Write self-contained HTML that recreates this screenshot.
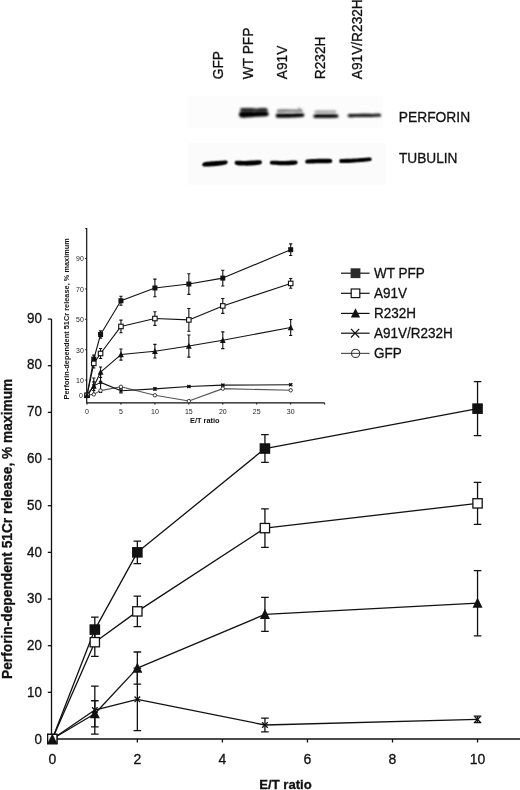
<!DOCTYPE html>
<html><head><meta charset="utf-8"><style>
html,body{margin:0;padding:0;background:#fff;}
svg{display:block;filter:grayscale(1);}
text{stroke:#111;stroke-width:0.3px;}
</style></head><body>
<svg width="520" height="790" viewBox="0 0 520 790">
<defs><filter id="bl" x="-20%" y="-50%" width="140%" height="200%"><feGaussianBlur stdDeviation="1.0"/></filter><filter id="bl2" x="-20%" y="-50%" width="140%" height="200%"><feConvolveMatrix order="3" kernelMatrix="1 2 1 2 4 2 1 2 1" divisor="16" edgeMode="none"/></filter><filter id="soft" x="0" y="0" width="520" height="790" filterUnits="userSpaceOnUse"><feConvolveMatrix order="3" kernelMatrix="1 3 1 3 9 3 1 3 1" divisor="25" edgeMode="duplicate"/></filter></defs>
<rect width="520" height="790" fill="#fff"/>
<g id="blot">
<rect x="187.2" y="95.8" width="196" height="32" fill="#fcfcfc"/>
<rect x="187.7" y="143" width="197.9" height="41.6" fill="#fbfbfb"/>
<g filter="url(#bl)">
<path d="M240.25 109.25 C240.57 108.77 240.57 108.25 242.2 108.05 C243.82 107.85 247.53 107.97 250 108.05 C252.47 108.13 255.25 108.55 257 108.55 C258.75 108.55 259.07 108.15 260.5 108.05 C261.93 107.95 264.46 107.8 265.6 107.95 C266.74 108.1 266.99 108.48 267.35 108.95 C267.71 109.42 267.98 110.33 267.75 110.75 C267.52 111.17 270.26 111.33 266 111.45 C261.74 111.57 246.49 111.53 242.2 111.45 C237.91 111.37 240.57 111.32 240.25 110.95 C239.93 110.58 239.93 109.73 240.25 109.25Z" fill="#1e1e1e" opacity="1"/>
<path d="M239.25 113.15 C239.57 112.47 238.74 112.15 241.2 111.95 C243.66 111.75 249.77 111.95 254 111.95 C258.23 111.95 264.19 111.75 266.6 111.95 C269.01 112.15 268.14 112.6 268.45 113.15 C268.76 113.7 268.86 114.73 268.45 115.25 C268.04 115.77 268.07 115.98 266 116.25 C263.93 116.52 259.17 116.63 256 116.85 C252.83 117.07 249.42 117.45 247 117.55 C244.58 117.65 242.79 117.7 241.5 117.45 C240.21 117.2 239.62 116.77 239.25 116.05 C238.88 115.33 238.93 113.83 239.25 113.15Z" fill="#000" opacity="1"/>
<path d="M277.2 110.2 C277.5 109.82 276.87 109.52 279 109.4 C281.13 109.28 286.33 109.47 290 109.5 C293.67 109.53 298.92 109.47 301 109.6 C303.08 109.73 302.25 109.95 302.5 110.3 C302.75 110.65 302.75 111.4 302.5 111.7 C302.25 112 304.92 112.02 301 112.1 C297.08 112.18 282.97 112.27 279 112.2 C275.03 112.13 277.5 112.03 277.2 111.7 C276.9 111.37 276.9 110.58 277.2 110.2Z" fill="#7a7a7a" opacity="1"/>
<circle cx="299.3" cy="108.7" r="1.1" fill="#8a8a8a"/>
<path d="M276.05 114.55 C276.38 114.02 275.68 113.73 278 113.55 C280.32 113.37 285.97 113.5 290 113.45 C294.03 113.4 299.86 113.12 302.2 113.25 C304.54 113.38 303.74 113.78 304.05 114.25 C304.36 114.72 304.39 115.6 304.05 116.05 C303.71 116.5 304.68 116.68 302 116.95 C299.32 117.22 291.97 117.52 288 117.65 C284.03 117.78 280.19 117.9 278.2 117.75 C276.21 117.6 276.41 117.28 276.05 116.75 C275.69 116.22 275.73 115.08 276.05 114.55Z" fill="#000" opacity="1"/>
<path d="M314.65 111.25 C314.88 110.93 314.11 110.58 316 110.45 C317.89 110.32 322.83 110.43 326 110.45 C329.17 110.47 333.31 110.4 335 110.55 C336.69 110.7 335.96 111.07 336.15 111.35 C336.34 111.63 336.34 112.02 336.15 112.25 C335.96 112.48 336.69 112.65 335 112.75 C333.31 112.85 329.17 112.83 326 112.85 C322.83 112.87 317.89 112.93 316 112.85 C314.11 112.77 314.88 112.62 314.65 112.35 C314.43 112.08 314.43 111.57 314.65 111.25Z" fill="#959595" opacity="1"/>
<path d="M313.65 115.35 C313.98 114.85 313.54 114.37 315.6 114.15 C317.66 113.93 322.53 114.05 326 114.05 C329.47 114.05 334.36 113.95 336.4 114.15 C338.44 114.35 337.94 114.77 338.25 115.25 C338.56 115.73 338.56 116.63 338.25 117.05 C337.94 117.47 338.44 117.6 336.4 117.75 C334.36 117.9 329.47 117.92 326 117.95 C322.53 117.98 317.66 118.08 315.6 117.95 C313.54 117.82 313.98 117.58 313.65 117.15 C313.33 116.72 313.33 115.85 313.65 115.35Z" fill="#080808" opacity="1"/>
<path d="M347.8 115.3 C348.08 114.95 347.8 114.32 349.5 114.1 C351.2 113.88 355.42 114.05 358 114 C360.58 113.95 362.67 113.82 365 113.8 C367.33 113.78 369.58 113.9 372 113.9 C374.42 113.9 378 113.65 379.5 113.8 C381 113.95 380.75 114.45 381 114.8 C381.25 115.15 381.25 115.6 381 115.9 C380.75 116.2 381 116.42 379.5 116.6 C378 116.78 374.42 116.95 372 117 C369.58 117.05 367.33 116.88 365 116.9 C362.67 116.92 360.58 117.05 358 117.1 C355.42 117.15 351.2 117.35 349.5 117.2 C347.8 117.05 348.08 116.52 347.8 116.2 C347.52 115.88 347.52 115.65 347.8 115.3Z" fill="#0d0d0d" opacity="1"/>
</g>
<g filter="url(#bl2)">
<path d="M202.5 163.7 C202.85 163.12 203.35 162.58 204.6 162.2 C205.85 161.82 207.77 161.6 210 161.4 C212.23 161.2 215.4 161.15 218 161 C220.6 160.85 224.03 160.45 225.6 160.5 C227.17 160.55 227.1 160.83 227.4 161.3 C227.7 161.77 227.7 162.78 227.4 163.3 C227.1 163.82 227.17 163.98 225.6 164.4 C224.03 164.82 220.6 165.47 218 165.8 C215.4 166.13 212.23 166.28 210 166.4 C207.77 166.52 205.85 166.62 204.6 166.5 C203.35 166.38 202.85 166.17 202.5 165.7 C202.15 165.23 202.15 164.28 202.5 163.7Z" fill="#000" opacity="1"/>
<path d="M234.9 161.8 C235.22 161.28 235.03 160.95 236.8 160.8 C238.57 160.65 241.83 160.98 245.5 160.9 C249.17 160.82 256.13 160.27 258.8 160.3 C261.47 160.33 261.02 160.6 261.5 161.1 C261.98 161.6 261.98 162.73 261.7 163.3 C261.42 163.87 261.42 164.12 259.8 164.5 C258.18 164.88 254.97 165.42 252 165.6 C249.03 165.78 244.53 165.72 242 165.6 C239.47 165.48 237.98 165.18 236.8 164.9 C235.62 164.62 235.22 164.42 234.9 163.9 C234.58 163.38 234.58 162.32 234.9 161.8Z" fill="#000" opacity="1"/>
<path d="M270.1 161.9 C270.4 161.42 269.78 160.95 271.9 160.8 C274.02 160.65 279.07 161.07 282.8 161 C286.53 160.93 291.9 160.37 294.3 160.4 C296.7 160.43 296.68 160.72 297.2 161.2 C297.72 161.68 297.67 162.75 297.4 163.3 C297.13 163.85 296.92 164.18 295.6 164.5 C294.28 164.82 292.18 165.08 289.5 165.2 C286.82 165.32 282.43 165.32 279.5 165.2 C276.57 165.08 273.47 164.75 271.9 164.5 C270.33 164.25 270.4 164.13 270.1 163.7 C269.8 163.27 269.8 162.38 270.1 161.9Z" fill="#000" opacity="1"/>
<path d="M305.5 160.8 C305.83 160.28 305.28 159.93 307.5 159.6 C309.72 159.27 315.02 158.92 318.8 158.8 C322.58 158.68 328 158.7 330.2 158.9 C332.4 159.1 331.7 159.48 332 160 C332.3 160.52 332.3 161.52 332 162 C331.7 162.48 332.4 162.68 330.2 162.9 C328 163.12 322.58 163.18 318.8 163.3 C315.02 163.42 309.72 163.7 307.5 163.6 C305.28 163.5 305.83 163.17 305.5 162.7 C305.17 162.23 305.17 161.32 305.5 160.8Z" fill="#000" opacity="1"/>
<path d="M339.5 160.3 C339.83 159.8 338.88 159.4 341.5 159.1 C344.12 158.8 350.65 158.77 355.2 158.5 C359.75 158.23 366.1 157.52 368.8 157.5 C371.5 157.48 370.97 157.93 371.4 158.4 C371.83 158.87 371.83 159.82 371.4 160.3 C370.97 160.78 371.5 160.93 368.8 161.3 C366.1 161.67 359.75 162.2 355.2 162.5 C350.65 162.8 344.12 163.17 341.5 163.1 C338.88 163.03 339.83 162.57 339.5 162.1 C339.17 161.63 339.17 160.8 339.5 160.3Z" fill="#000" opacity="1"/>
</g>
<text transform="translate(223 79.2) rotate(-90)" textLength="28.16" lengthAdjust="spacingAndGlyphs" style="font-family:'Liberation Sans',sans-serif;font-size:14.6px" fill="#111">GFP</text>
<text transform="translate(253.4 79.2) rotate(-90)" textLength="51.5" lengthAdjust="spacingAndGlyphs" style="font-family:'Liberation Sans',sans-serif;font-size:14.6px" fill="#111">WT PFP</text>
<text transform="translate(287.4 79.2) rotate(-90)" textLength="33.52" lengthAdjust="spacingAndGlyphs" style="font-family:'Liberation Sans',sans-serif;font-size:14.6px" fill="#111">A91V</text>
<text transform="translate(324.8 79.2) rotate(-90)" textLength="42.65" lengthAdjust="spacingAndGlyphs" style="font-family:'Liberation Sans',sans-serif;font-size:14.6px" fill="#111">R232H</text>
<text transform="translate(361.8 79.2) rotate(-90)" textLength="79.97" lengthAdjust="spacingAndGlyphs" style="font-family:'Liberation Sans',sans-serif;font-size:14.6px" fill="#111">A91V/R232H</text>
<text x="398.8" y="121.5" textLength="71.3" lengthAdjust="spacingAndGlyphs" style="font-family:'Liberation Sans',sans-serif;font-size:14.3px" fill="#111">PERFORIN</text>
<text x="398.9" y="162.6" textLength="58.61" lengthAdjust="spacingAndGlyphs" style="font-family:'Liberation Sans',sans-serif;font-size:14.3px" fill="#111">TUBULIN</text>
</g>
<g id="main" stroke-linecap="butt">
<path d="M51.5 319.06V739.6M51 739H520" stroke="#111" stroke-width="1.3" fill="none"/>
<path d="M47.8 739H51.5" stroke="#111" stroke-width="1.3"/>
<text x="41.9" y="743.7" text-anchor="end" textLength="7.45" lengthAdjust="spacingAndGlyphs" style="font-family:'Liberation Sans',sans-serif;font-size:14px" fill="#111">0</text>
<path d="M47.8 692.34H51.5" stroke="#111" stroke-width="1.3"/>
<text x="41.9" y="696.9" text-anchor="end" textLength="14.9" lengthAdjust="spacingAndGlyphs" style="font-family:'Liberation Sans',sans-serif;font-size:14px" fill="#111">10</text>
<path d="M47.8 645.68H51.5" stroke="#111" stroke-width="1.3"/>
<text x="41.9" y="650.1" text-anchor="end" textLength="14.9" lengthAdjust="spacingAndGlyphs" style="font-family:'Liberation Sans',sans-serif;font-size:14px" fill="#111">20</text>
<path d="M47.8 599.02H51.5" stroke="#111" stroke-width="1.3"/>
<text x="41.9" y="603.3" text-anchor="end" textLength="14.9" lengthAdjust="spacingAndGlyphs" style="font-family:'Liberation Sans',sans-serif;font-size:14px" fill="#111">30</text>
<path d="M47.8 552.36H51.5" stroke="#111" stroke-width="1.3"/>
<text x="41.9" y="556.5" text-anchor="end" textLength="14.9" lengthAdjust="spacingAndGlyphs" style="font-family:'Liberation Sans',sans-serif;font-size:14px" fill="#111">40</text>
<path d="M47.8 505.7H51.5" stroke="#111" stroke-width="1.3"/>
<text x="41.9" y="509.7" text-anchor="end" textLength="14.9" lengthAdjust="spacingAndGlyphs" style="font-family:'Liberation Sans',sans-serif;font-size:14px" fill="#111">50</text>
<path d="M47.8 459.04H51.5" stroke="#111" stroke-width="1.3"/>
<text x="41.9" y="462.9" text-anchor="end" textLength="14.9" lengthAdjust="spacingAndGlyphs" style="font-family:'Liberation Sans',sans-serif;font-size:14px" fill="#111">60</text>
<path d="M47.8 412.38H51.5" stroke="#111" stroke-width="1.3"/>
<text x="41.9" y="416.1" text-anchor="end" textLength="14.9" lengthAdjust="spacingAndGlyphs" style="font-family:'Liberation Sans',sans-serif;font-size:14px" fill="#111">70</text>
<path d="M47.8 365.72H51.5" stroke="#111" stroke-width="1.3"/>
<text x="41.9" y="369.3" text-anchor="end" textLength="14.9" lengthAdjust="spacingAndGlyphs" style="font-family:'Liberation Sans',sans-serif;font-size:14px" fill="#111">80</text>
<path d="M47.8 319.06H51.5" stroke="#111" stroke-width="1.3"/>
<text x="41.9" y="322.5" text-anchor="end" textLength="14.9" lengthAdjust="spacingAndGlyphs" style="font-family:'Liberation Sans',sans-serif;font-size:14px" fill="#111">90</text>
<path d="M52.3 739V742.5" stroke="#111" stroke-width="1.3"/>
<text x="52.3" y="764" text-anchor="middle" style="font-family:'Liberation Sans',sans-serif;font-size:14px" fill="#111">0</text>
<path d="M137.35 739V742.5" stroke="#111" stroke-width="1.3"/>
<text x="137.35" y="764" text-anchor="middle" style="font-family:'Liberation Sans',sans-serif;font-size:14px" fill="#111">2</text>
<path d="M222.4 739V742.5" stroke="#111" stroke-width="1.3"/>
<text x="222.4" y="764" text-anchor="middle" style="font-family:'Liberation Sans',sans-serif;font-size:14px" fill="#111">4</text>
<path d="M307.45 739V742.5" stroke="#111" stroke-width="1.3"/>
<text x="307.45" y="764" text-anchor="middle" style="font-family:'Liberation Sans',sans-serif;font-size:14px" fill="#111">6</text>
<path d="M392.5 739V742.5" stroke="#111" stroke-width="1.3"/>
<text x="392.5" y="764" text-anchor="middle" style="font-family:'Liberation Sans',sans-serif;font-size:14px" fill="#111">8</text>
<path d="M477.55 739V742.5" stroke="#111" stroke-width="1.3"/>
<text x="477.55" y="764" text-anchor="middle" style="font-family:'Liberation Sans',sans-serif;font-size:14px" fill="#111">10</text>
<text x="285.5" y="788.5" text-anchor="middle" style="font-family:'Liberation Sans',sans-serif;font-size:13.1px;font-weight:bold" fill="#111">E/T ratio</text>
<text transform="translate(12.0 679.0) rotate(-90)" textLength="300.31" lengthAdjust="spacingAndGlyphs" style="font-family:'Liberation Sans',sans-serif;font-size:14.4px;font-weight:bold" fill="#111">Perforin-dependent 51Cr release, % maximum</text>
<path d="M52.3 739 L94.82 629.58 L137.35 552.36 L264.93 448.54 L477.55 408.65" fill="none" stroke="#111" stroke-width="1.3" stroke-linejoin="round"/>
<path d="M52.3 739 L94.82 642.18 L137.35 611.38 L264.93 528.1 L477.55 503.37" fill="none" stroke="#111" stroke-width="1.3" stroke-linejoin="round"/>
<path d="M52.3 739 L94.82 713.8 L137.35 668.08 L264.93 614.42 L477.55 603.22" fill="none" stroke="#111" stroke-width="1.3" stroke-linejoin="round"/>
<path d="M52.3 739 L94.82 710.07 L137.35 699.34 L264.93 725 L477.55 719.4" fill="none" stroke="#111" stroke-width="1.3" stroke-linejoin="round"/>
<path d="M94.82 617.17V641.99M91.02 617.17H98.62M91.02 641.99H98.62" stroke="#111" stroke-width="1.3" fill="none"/>
<path d="M137.35 541.16V563.56M133.55 541.16H141.15M133.55 563.56H141.15" stroke="#111" stroke-width="1.3" fill="none"/>
<path d="M264.93 434.64V462.45M261.12 434.64H268.73M261.12 462.45H268.73" stroke="#111" stroke-width="1.3" fill="none"/>
<path d="M477.55 381.58V435.71M473.75 381.58H481.35M473.75 435.71H481.35" stroke="#111" stroke-width="1.3" fill="none"/>
<path d="M94.82 628V656.37M91.02 628H98.62M91.02 656.37H98.62" stroke="#111" stroke-width="1.3" fill="none"/>
<path d="M137.35 596.13V626.64M133.55 596.13H141.15M133.55 626.64H141.15" stroke="#111" stroke-width="1.3" fill="none"/>
<path d="M264.93 508.78V547.41M261.12 508.78H268.73M261.12 547.41H268.73" stroke="#111" stroke-width="1.3" fill="none"/>
<path d="M477.55 482.37V524.36M473.75 482.37H481.35M473.75 524.36H481.35" stroke="#111" stroke-width="1.3" fill="none"/>
<path d="M94.82 700.74V726.87M91.02 700.74H98.62M91.02 726.87H98.62" stroke="#111" stroke-width="1.3" fill="none"/>
<path d="M137.35 651.98V684.17M133.55 651.98H141.15M133.55 684.17H141.15" stroke="#111" stroke-width="1.3" fill="none"/>
<path d="M264.93 597.43V631.4M261.12 597.43H268.73M261.12 631.4H268.73" stroke="#111" stroke-width="1.3" fill="none"/>
<path d="M477.55 570.56V635.88M473.75 570.56H481.35M473.75 635.88H481.35" stroke="#111" stroke-width="1.3" fill="none"/>
<path d="M94.82 686.09V734.05M91.02 686.09H98.62M91.02 734.05H98.62" stroke="#111" stroke-width="1.3" fill="none"/>
<path d="M137.35 668.08V730.6M133.55 668.08H141.15M133.55 730.6H141.15" stroke="#111" stroke-width="1.3" fill="none"/>
<path d="M264.93 718.19V731.81M261.12 718.19H268.73M261.12 731.81H268.73" stroke="#111" stroke-width="1.3" fill="none"/>
<path d="M477.55 716.14V722.67M473.75 716.14H481.35M473.75 722.67H481.35" stroke="#111" stroke-width="1.3" fill="none"/>
<rect x="47" y="733.7" width="10.6" height="10.6" fill="#111"/>
<rect x="89.52" y="624.28" width="10.6" height="10.6" fill="#111"/>
<rect x="132.05" y="547.06" width="10.6" height="10.6" fill="#111"/>
<rect x="259.62" y="443.24" width="10.6" height="10.6" fill="#111"/>
<rect x="472.25" y="403.35" width="10.6" height="10.6" fill="#111"/>
<rect x="47.65" y="734.35" width="9.3" height="9.3" fill="#fff" stroke="#111" stroke-width="1.3"/>
<rect x="90.17" y="637.53" width="9.3" height="9.3" fill="#fff" stroke="#111" stroke-width="1.3"/>
<rect x="132.7" y="606.73" width="9.3" height="9.3" fill="#fff" stroke="#111" stroke-width="1.3"/>
<rect x="260.27" y="523.45" width="9.3" height="9.3" fill="#fff" stroke="#111" stroke-width="1.3"/>
<rect x="472.9" y="498.72" width="9.3" height="9.3" fill="#fff" stroke="#111" stroke-width="1.3"/>
<path d="M52.3 733.38L57.28 743.56L47.32 743.56Z" fill="#111"/>
<path d="M94.82 708.19L99.81 718.36L89.84 718.36Z" fill="#111"/>
<path d="M137.35 662.46L142.33 672.63L132.37 672.63Z" fill="#111"/>
<path d="M264.93 608.8L269.91 618.98L259.94 618.98Z" fill="#111"/>
<path d="M477.55 597.6L482.53 607.78L472.57 607.78Z" fill="#111"/>
<path d="M92.02 707.27L97.62 712.87M97.62 707.27L92.02 712.87" stroke="#111" stroke-width="1.3" fill="none"/>
<path d="M134.55 696.54L140.15 702.14M140.15 696.54L134.55 702.14" stroke="#111" stroke-width="1.3" fill="none"/>
<path d="M262.12 722.2L267.73 727.8M267.73 722.2L262.12 727.8" stroke="#111" stroke-width="1.3" fill="none"/>
<path d="M474.75 716.6L480.35 722.2M480.35 716.6L474.75 722.2" stroke="#111" stroke-width="1.3" fill="none"/>
</g>
<g id="inset">
<rect x="88" y="226" width="245" height="170" fill="#fff"/>
<path d="M86.7 228.1V403.4M86.2 402.9H324.65" stroke="#111" stroke-width="1.2" fill="none"/>
<path d="M85.2 228.6H86.7" stroke="#111" stroke-width="1"/>
<path d="M85.2 395.3H86.7" stroke="#111" stroke-width="1"/>
<text x="82.8" y="398.1" text-anchor="end" textLength="3.89" lengthAdjust="spacingAndGlyphs" style="font-family:'Liberation Sans',sans-serif;font-size:7.8px;stroke:none" fill="#222">0</text>
<path d="M85.2 380.1H86.7" stroke="#111" stroke-width="1"/>
<text x="83.8" y="382.9" text-anchor="end" textLength="7.78" lengthAdjust="spacingAndGlyphs" style="font-family:'Liberation Sans',sans-serif;font-size:7.8px;stroke:none" fill="#222">10</text>
<path d="M85.2 349.7H86.7" stroke="#111" stroke-width="1"/>
<text x="83.8" y="352.5" text-anchor="end" textLength="7.78" lengthAdjust="spacingAndGlyphs" style="font-family:'Liberation Sans',sans-serif;font-size:7.8px;stroke:none" fill="#222">30</text>
<path d="M85.2 319.3H86.7" stroke="#111" stroke-width="1"/>
<text x="83.8" y="322.1" text-anchor="end" textLength="7.78" lengthAdjust="spacingAndGlyphs" style="font-family:'Liberation Sans',sans-serif;font-size:7.8px;stroke:none" fill="#222">50</text>
<path d="M85.2 288.9H86.7" stroke="#111" stroke-width="1"/>
<text x="83.8" y="291.7" text-anchor="end" textLength="7.78" lengthAdjust="spacingAndGlyphs" style="font-family:'Liberation Sans',sans-serif;font-size:7.8px;stroke:none" fill="#222">70</text>
<path d="M85.2 258.5H86.7" stroke="#111" stroke-width="1"/>
<text x="83.8" y="261.3" text-anchor="end" textLength="7.78" lengthAdjust="spacingAndGlyphs" style="font-family:'Liberation Sans',sans-serif;font-size:7.8px;stroke:none" fill="#222">90</text>
<path d="M87 402.9V404.6" stroke="#111" stroke-width="1"/>
<text x="87" y="414.1" text-anchor="middle" textLength="3.89" lengthAdjust="spacingAndGlyphs" style="font-family:'Liberation Sans',sans-serif;font-size:7.8px;stroke:none" fill="#222">0</text>
<path d="M120.95 402.9V404.6" stroke="#111" stroke-width="1"/>
<text x="120.95" y="414.1" text-anchor="middle" textLength="3.89" lengthAdjust="spacingAndGlyphs" style="font-family:'Liberation Sans',sans-serif;font-size:7.8px;stroke:none" fill="#222">5</text>
<path d="M154.9 402.9V404.6" stroke="#111" stroke-width="1"/>
<text x="154.9" y="414.1" text-anchor="middle" textLength="7.78" lengthAdjust="spacingAndGlyphs" style="font-family:'Liberation Sans',sans-serif;font-size:7.8px;stroke:none" fill="#222">10</text>
<path d="M188.85 402.9V404.6" stroke="#111" stroke-width="1"/>
<text x="188.85" y="414.1" text-anchor="middle" textLength="7.78" lengthAdjust="spacingAndGlyphs" style="font-family:'Liberation Sans',sans-serif;font-size:7.8px;stroke:none" fill="#222">15</text>
<path d="M222.8 402.9V404.6" stroke="#111" stroke-width="1"/>
<text x="222.8" y="414.1" text-anchor="middle" textLength="7.78" lengthAdjust="spacingAndGlyphs" style="font-family:'Liberation Sans',sans-serif;font-size:7.8px;stroke:none" fill="#222">20</text>
<path d="M256.75 402.9V404.6" stroke="#111" stroke-width="1"/>
<text x="256.75" y="414.1" text-anchor="middle" textLength="7.78" lengthAdjust="spacingAndGlyphs" style="font-family:'Liberation Sans',sans-serif;font-size:7.8px;stroke:none" fill="#222">25</text>
<path d="M290.7 402.9V404.6" stroke="#111" stroke-width="1"/>
<text x="290.7" y="414.1" text-anchor="middle" textLength="7.78" lengthAdjust="spacingAndGlyphs" style="font-family:'Liberation Sans',sans-serif;font-size:7.8px;stroke:none" fill="#222">30</text>
<path d="M324.65 402.9V404.6" stroke="#111" stroke-width="1"/>
<text x="204.8" y="423" text-anchor="middle" style="font-family:'Liberation Sans',sans-serif;font-size:7.4px;font-weight:bold;stroke:none" fill="#111">E/T ratio</text>
<text transform="translate(69.2 399.5) rotate(-90)" style="font-family:'Liberation Sans',sans-serif;font-size:7.4px;font-weight:bold;stroke:none" fill="#111">Perforin-dependent 51Cr release, % maximum</text>
<path d="M87 395.3 L93.79 394.39 L100.58 390.59 L120.95 386.79 L154.9 395.3 L188.85 401.08 L222.8 388.61 L290.7 390.28" fill="none" stroke="#555" stroke-width="1.1" stroke-linejoin="round"/>
<path d="M87 395.3 L93.79 359.12 L100.58 334.5 L120.95 300.76 L154.9 287.99 L188.85 284.04 L222.8 278.11 L290.7 249.68" fill="none" stroke="#111" stroke-width="1.1" stroke-linejoin="round"/>
<path d="M87 395.3 L93.79 363.38 L100.58 353.5 L120.95 326.44 L154.9 318.54 L188.85 319.91 L222.8 305.92 L290.7 283.43" fill="none" stroke="#111" stroke-width="1.1" stroke-linejoin="round"/>
<path d="M87 395.3 L93.79 386.18 L100.58 372.2 L120.95 354.56 L154.9 351.22 L188.85 346.05 L222.8 340.28 L290.7 327.51" fill="none" stroke="#111" stroke-width="1.1" stroke-linejoin="round"/>
<path d="M87 395.3 L93.79 385.88 L100.58 382.38 L120.95 390.74 L154.9 388.92 L188.85 386.48 L222.8 385.12 L290.7 384.81" fill="none" stroke="#111" stroke-width="1.1" stroke-linejoin="round"/>
<path d="M93.79 355.08V363.17M92.19 355.08H95.39M92.19 363.17H95.39" stroke="#111" stroke-width="1.1" fill="none"/>
<path d="M100.58 330.85V338.15M98.98 330.85H102.18M98.98 338.15H102.18" stroke="#111" stroke-width="1.1" fill="none"/>
<path d="M120.95 296.23V305.29M119.35 296.23H122.55M119.35 305.29H122.55" stroke="#111" stroke-width="1.1" fill="none"/>
<path d="M154.9 279.17V296.8M153.3 279.17H156.5M153.3 296.8H156.5" stroke="#111" stroke-width="1.1" fill="none"/>
<path d="M188.85 273.7V294.37M187.25 273.7H190.45M187.25 294.37H190.45" stroke="#111" stroke-width="1.1" fill="none"/>
<path d="M222.8 270.2V286.01M221.2 270.2H224.4M221.2 286.01H224.4" stroke="#111" stroke-width="1.1" fill="none"/>
<path d="M290.7 243.91V255.46M289.1 243.91H292.3M289.1 255.46H292.3" stroke="#111" stroke-width="1.1" fill="none"/>
<path d="M93.79 358.76V368M92.19 358.76H95.39M92.19 368H95.39" stroke="#111" stroke-width="1.1" fill="none"/>
<path d="M100.58 348.53V358.47M98.98 348.53H102.18M98.98 358.47H102.18" stroke="#111" stroke-width="1.1" fill="none"/>
<path d="M120.95 320.15V332.74M119.35 320.15H122.55M119.35 332.74H122.55" stroke="#111" stroke-width="1.1" fill="none"/>
<path d="M154.9 311.7V325.38M153.3 311.7H156.5M153.3 325.38H156.5" stroke="#111" stroke-width="1.1" fill="none"/>
<path d="M188.85 308.51V331.31M187.25 308.51H190.45M187.25 331.31H190.45" stroke="#111" stroke-width="1.1" fill="none"/>
<path d="M222.8 298.48V313.37M221.2 298.48H224.4M221.2 313.37H224.4" stroke="#111" stroke-width="1.1" fill="none"/>
<path d="M290.7 278.56V288.29M289.1 278.56H292.3M289.1 288.29H292.3" stroke="#111" stroke-width="1.1" fill="none"/>
<path d="M93.79 381.92V390.44M92.19 381.92H95.39M92.19 390.44H95.39" stroke="#111" stroke-width="1.1" fill="none"/>
<path d="M100.58 366.95V377.44M98.98 366.95H102.18M98.98 377.44H102.18" stroke="#111" stroke-width="1.1" fill="none"/>
<path d="M120.95 349.03V360.1M119.35 349.03H122.55M119.35 360.1H122.55" stroke="#111" stroke-width="1.1" fill="none"/>
<path d="M154.9 344.38V358.06M153.3 344.38H156.5M153.3 358.06H156.5" stroke="#111" stroke-width="1.1" fill="none"/>
<path d="M188.85 334.96V357.15M187.25 334.96H190.45M187.25 357.15H190.45" stroke="#111" stroke-width="1.1" fill="none"/>
<path d="M222.8 331.92V348.64M221.2 331.92H224.4M221.2 348.64H224.4" stroke="#111" stroke-width="1.1" fill="none"/>
<path d="M290.7 319.45V335.56M289.1 319.45H292.3M289.1 335.56H292.3" stroke="#111" stroke-width="1.1" fill="none"/>
<path d="M93.79 378.06V393.69M92.19 378.06H95.39M92.19 393.69H95.39" stroke="#111" stroke-width="1.1" fill="none"/>
<path d="M100.58 372.2V392.56M98.98 372.2H102.18M98.98 392.56H102.18" stroke="#111" stroke-width="1.1" fill="none"/>
<path d="M120.95 388.52V392.96M119.35 388.52H122.55M119.35 392.96H122.55" stroke="#111" stroke-width="1.1" fill="none"/>
<path d="M154.9 387.85V389.98M153.3 387.85H156.5M153.3 389.98H156.5" stroke="#111" stroke-width="1.1" fill="none"/>
<path d="M188.85 385.72V387.24M187.25 385.72H190.45M187.25 387.24H190.45" stroke="#111" stroke-width="1.1" fill="none"/>
<path d="M222.8 384.36V385.88M221.2 384.36H224.4M221.2 385.88H224.4" stroke="#111" stroke-width="1.1" fill="none"/>
<path d="M290.7 384.05V385.57M289.1 384.05H292.3M289.1 385.57H292.3" stroke="#111" stroke-width="1.1" fill="none"/>
<circle cx="87" cy="395.3" r="1.71" fill="#fff" stroke="#333" stroke-width="0.9900000000000001"/>
<circle cx="93.79" cy="394.39" r="1.71" fill="#fff" stroke="#333" stroke-width="0.9900000000000001"/>
<circle cx="100.58" cy="390.59" r="1.71" fill="#fff" stroke="#333" stroke-width="0.9900000000000001"/>
<circle cx="120.95" cy="386.79" r="1.71" fill="#fff" stroke="#333" stroke-width="0.9900000000000001"/>
<circle cx="154.9" cy="395.3" r="1.71" fill="#fff" stroke="#333" stroke-width="0.9900000000000001"/>
<circle cx="188.85" cy="401.08" r="1.71" fill="#fff" stroke="#333" stroke-width="0.9900000000000001"/>
<circle cx="222.8" cy="388.61" r="1.71" fill="#fff" stroke="#333" stroke-width="0.9900000000000001"/>
<circle cx="290.7" cy="390.28" r="1.71" fill="#fff" stroke="#333" stroke-width="0.9900000000000001"/>
<rect x="84.5" y="392.8" width="5" height="5" fill="#111"/>
<rect x="91.29" y="356.62" width="5" height="5" fill="#111"/>
<rect x="98.08" y="332" width="5" height="5" fill="#111"/>
<rect x="118.45" y="298.26" width="5" height="5" fill="#111"/>
<rect x="152.4" y="285.49" width="5" height="5" fill="#111"/>
<rect x="186.35" y="281.54" width="5" height="5" fill="#111"/>
<rect x="220.3" y="275.61" width="5" height="5" fill="#111"/>
<rect x="288.2" y="247.18" width="5" height="5" fill="#111"/>
<rect x="84.75" y="393.05" width="4.5" height="4.5" fill="#fff" stroke="#111" stroke-width="1.1"/>
<rect x="91.54" y="361.13" width="4.5" height="4.5" fill="#fff" stroke="#111" stroke-width="1.1"/>
<rect x="98.33" y="351.25" width="4.5" height="4.5" fill="#fff" stroke="#111" stroke-width="1.1"/>
<rect x="118.7" y="324.19" width="4.5" height="4.5" fill="#fff" stroke="#111" stroke-width="1.1"/>
<rect x="152.65" y="316.29" width="4.5" height="4.5" fill="#fff" stroke="#111" stroke-width="1.1"/>
<rect x="186.6" y="317.66" width="4.5" height="4.5" fill="#fff" stroke="#111" stroke-width="1.1"/>
<rect x="220.55" y="303.67" width="4.5" height="4.5" fill="#fff" stroke="#111" stroke-width="1.1"/>
<rect x="288.45" y="281.18" width="4.5" height="4.5" fill="#fff" stroke="#111" stroke-width="1.1"/>
<path d="M87 392.01L89.91 397.97L84.09 397.97Z" fill="#111"/>
<path d="M93.79 382.89L96.7 388.85L90.88 388.85Z" fill="#111"/>
<path d="M100.58 368.91L103.49 374.86L97.67 374.86Z" fill="#111"/>
<path d="M120.95 351.28L123.86 357.23L118.04 357.23Z" fill="#111"/>
<path d="M154.9 347.93L157.81 353.89L151.99 353.89Z" fill="#111"/>
<path d="M188.85 342.77L191.76 348.72L185.94 348.72Z" fill="#111"/>
<path d="M222.8 336.99L225.71 342.94L219.89 342.94Z" fill="#111"/>
<path d="M290.7 324.22L293.61 330.17L287.79 330.17Z" fill="#111"/>
<path d="M92.19 384.28L95.39 387.48M95.39 384.28L92.19 387.48" stroke="#111" stroke-width="1.1" fill="none"/>
<path d="M98.98 380.78L102.18 383.98M102.18 380.78L98.98 383.98" stroke="#111" stroke-width="1.1" fill="none"/>
<path d="M119.35 389.14L122.55 392.34M122.55 389.14L119.35 392.34" stroke="#111" stroke-width="1.1" fill="none"/>
<path d="M153.3 387.32L156.5 390.52M156.5 387.32L153.3 390.52" stroke="#111" stroke-width="1.1" fill="none"/>
<path d="M187.25 384.88L190.45 388.08M190.45 384.88L187.25 388.08" stroke="#111" stroke-width="1.1" fill="none"/>
<path d="M221.2 383.52L224.4 386.72M224.4 383.52L221.2 386.72" stroke="#111" stroke-width="1.1" fill="none"/>
<path d="M289.1 383.21L292.3 386.41M292.3 383.21L289.1 386.41" stroke="#111" stroke-width="1.1" fill="none"/>
</g>
<g id="legend">
<path d="M341 273.2H369.6" stroke="#111" stroke-width="1.2"/>
<rect x="350.6" y="268.3" width="9.8" height="9.8" fill="#2a2a2a"/>
<text x="374" y="278.1" textLength="50.75" lengthAdjust="spacingAndGlyphs" style="font-family:'Liberation Sans',sans-serif;font-size:14.3px" fill="#111">WT PFP</text>
<path d="M341 293.3H369.6" stroke="#111" stroke-width="1.2"/>
<rect x="351.2" y="289" width="8.6" height="8.6" fill="#fff" stroke="#111" stroke-width="1.2"/>
<text x="374" y="298.2" textLength="33.03" lengthAdjust="spacingAndGlyphs" style="font-family:'Liberation Sans',sans-serif;font-size:14.3px" fill="#111">A91V</text>
<path d="M341 313.4H369.6" stroke="#111" stroke-width="1.2"/>
<path d="M355.5 308.21L360.11 317.61L350.89 317.61Z" fill="#111"/>
<text x="374" y="318.3" textLength="42.02" lengthAdjust="spacingAndGlyphs" style="font-family:'Liberation Sans',sans-serif;font-size:14.3px" fill="#111">R232H</text>
<path d="M341 333.2H369.6" stroke="#111" stroke-width="1.2"/>
<path d="M351 328.9L359.2 337.5M359.2 328.9L351 337.5" stroke="#111" stroke-width="1.2" fill="none"/>
<text x="374" y="338.1" textLength="78.8" lengthAdjust="spacingAndGlyphs" style="font-family:'Liberation Sans',sans-serif;font-size:14.3px" fill="#111">A91V/R232H</text>
<path d="M341 353.4H369.6" stroke="#555" stroke-width="1.2"/>
<circle cx="355.6" cy="353.4" r="4.1" fill="none" stroke="#333" stroke-width="1.1"/>
<text x="374" y="358.3" textLength="27.75" lengthAdjust="spacingAndGlyphs" style="font-family:'Liberation Sans',sans-serif;font-size:14.3px" fill="#111">GFP</text>
</g>
</svg>
</body></html>
